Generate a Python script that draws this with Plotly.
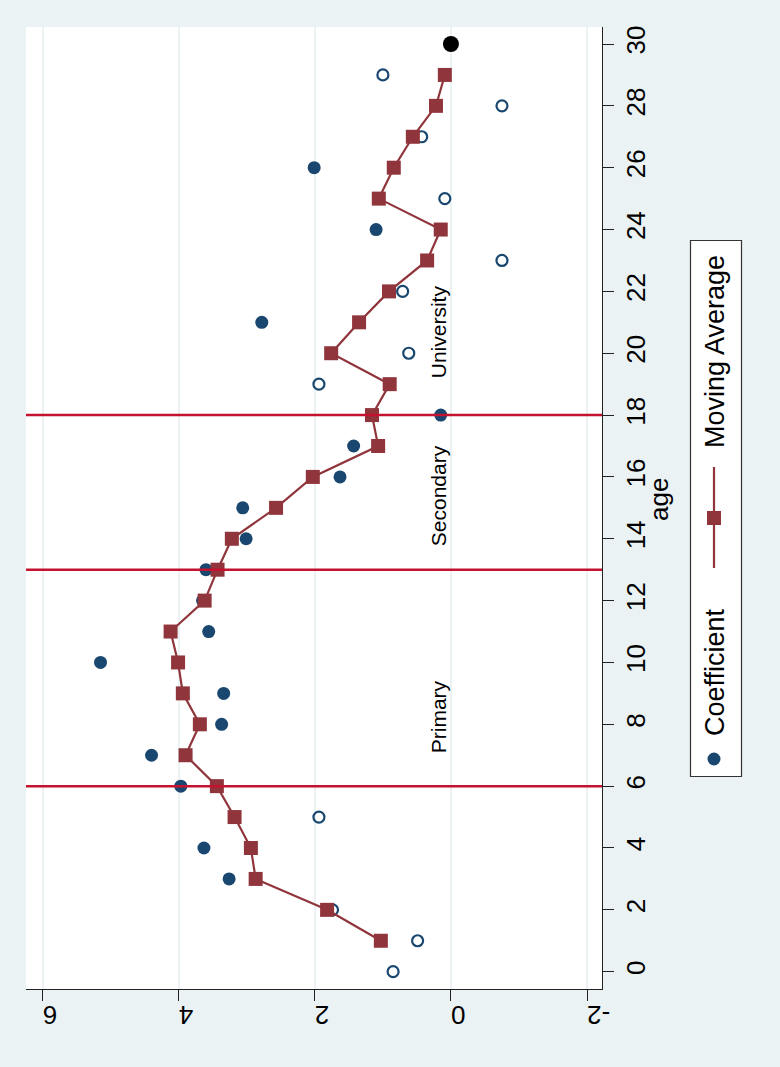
import plotly.graph_objects as go

# ---- data ----
ages = list(range(0, 30))
coef = [0.85, 0.49, 1.74, 3.26, 3.63, 1.94, 3.97, 4.40, 3.37, 3.34,
        5.15, 3.56, 3.65, 3.60, 3.01, 3.06, 1.63, 1.43, 0.15, 1.94,
        0.62, 2.78, 0.71, -0.75, 1.10, 0.09, 2.01, 0.43, -0.75, 1.00]
significant = [False, False, False, True, True, False, True, True, True, True,
               True, True, True, True, True, True, True, True, True, False,
               False, True, False, False, True, False, True, False, False, False]
ma_ages = list(range(1, 30))
moving_avg = [1.03, 1.82, 2.87, 2.94, 3.18, 3.44, 3.90, 3.69, 3.94, 4.01,
              4.12, 3.62, 3.43, 3.22, 2.57, 2.03, 1.07, 1.16, 0.90, 1.76,
              1.35, 0.91, 0.35, 0.15, 1.06, 0.84, 0.56, 0.22, 0.09]
ref_age = [30]
ref_coef = [0.0]
edu_cutoffs = [6, 13, 18]
edu_labels = ["Primary", "Secondary", "University"]
edu_label_age = [8.25, 15.4, 20.7]
edu_label_x = 0.18
x_ticks = [-2, 0, 2, 4, 6]
y_ticks = list(range(0, 31, 2))

NAVY = "#1A476F"
MAROON = "#90353B"
RED = "#C4122F"
BG = "#EAF2F3"
FONT = "Liberation Sans, Arial, sans-serif"

fig = go.Figure()

sig_a = [a for a, s in zip(ages, significant) if s]
sig_c = [c for c, s in zip(coef, significant) if s]
ns_a = [a for a, s in zip(ages, significant) if not s]
ns_c = [c for c, s in zip(coef, significant) if not s]

fig.add_trace(go.Scatter(x=ns_c, y=ns_a, mode="markers",
                         marker=dict(symbol="circle-open", size=11, color=NAVY,
                                     line=dict(width=2.2, color=NAVY)),
                         showlegend=False))
fig.add_trace(go.Scatter(x=sig_c, y=sig_a, mode="markers",
                         marker=dict(symbol="circle", size=13, color=NAVY),
                         showlegend=False))
fig.add_trace(go.Scatter(x=moving_avg, y=ma_ages, mode="lines+markers",
                         line=dict(color=MAROON, width=2.2),
                         marker=dict(symbol="square", size=14, color=MAROON),
                         showlegend=False))
fig.add_trace(go.Scatter(x=ref_coef, y=ref_age, mode="markers",
                         marker=dict(symbol="circle", size=16, color="black"),
                         showlegend=False))

for c in edu_cutoffs:
    fig.add_shape(type="line", xref="paper", x0=0, x1=1, yref="y", y0=c, y1=c,
                  line=dict(color=RED, width=2.5), layer="above")

for lab, a in zip(edu_labels, edu_label_age):
    fig.add_annotation(x=edu_label_x, y=a, xref="x", yref="y", text=lab,
                       textangle=-90, showarrow=False,
                       xanchor="center", yanchor="middle",
                       font=dict(family=FONT, size=21, color="black"))

# ---- layout geometry (pixels -> paper) ----
L, R, T, B = 26, 178, 27, 78
W, H = 780, 1067
pw, ph = W - L - R, H - T - B


def px(xp):
    return (xp - L) / pw


def py(yp):
    return (H - B - yp) / ph


def note(x, y, text, size):
    fig.add_annotation(x=px(x), y=py(y), xref="paper", yref="paper", text=text,
                       textangle=-90, showarrow=False,
                       xanchor="center", yanchor="middle",
                       font=dict(family=FONT, size=size, color="black"))


# axis title
note(659, 500, "age", 26)

# legend box
fig.add_shape(type="rect", xref="paper", yref="paper",
              x0=px(690.5), x1=px(741.5), y0=py(776.5), y1=py(240.5),
              line=dict(color="#333333", width=1.2), fillcolor="white")
# legend symbol: coefficient
fig.add_shape(type="circle", xref="paper", yref="paper",
              x0=px(707.5), x1=px(720.5), y0=py(765.5), y1=py(752.5),
              line=dict(width=0), fillcolor=NAVY)
# legend symbol: moving average
fig.add_shape(type="line", xref="paper", yref="paper",
              x0=px(714), x1=px(714), y0=py(568), y1=py(467),
              line=dict(color=MAROON, width=2.2))
fig.add_shape(type="rect", xref="paper", yref="paper",
              x0=px(707), x1=px(721), y0=py(525), y1=py(511),
              line=dict(width=0), fillcolor=MAROON)
note(715, 672, "Coefficient", 27)
note(715, 352, "Moving Average", 27)

fig.update_layout(
    width=W, height=H,
    margin=dict(l=L, r=R, t=T, b=B, pad=0),
    paper_bgcolor=BG, plot_bgcolor="white",
    font=dict(family=FONT, size=26, color="black"),
    showlegend=False,
    xaxis=dict(range=[6.245, -2.22], tickvals=x_ticks, ticktext=[str(v) for v in x_ticks],
               tickangle=180, ticks="outside", ticklen=11, tickcolor="#222",
               tickwidth=1, showline=True, linecolor="#222", linewidth=1,
               showgrid=True, gridcolor=BG, gridwidth=2, zeroline=False,
               tickfont=dict(size=26)),
    yaxis=dict(range=[-0.56, 30.55], tickvals=y_ticks, side="right",
               tickangle=-90, ticks="outside", ticklen=11, tickcolor="#222",
               tickwidth=1, showline=True, linecolor="#222", linewidth=1,
               showgrid=False, zeroline=False, tickfont=dict(size=26)),
)

fig.write_html("out.html",
               config={"displayModeBar": False},
               post_script="document.body.style.margin='0px';document.body.style.overflow='hidden';")
